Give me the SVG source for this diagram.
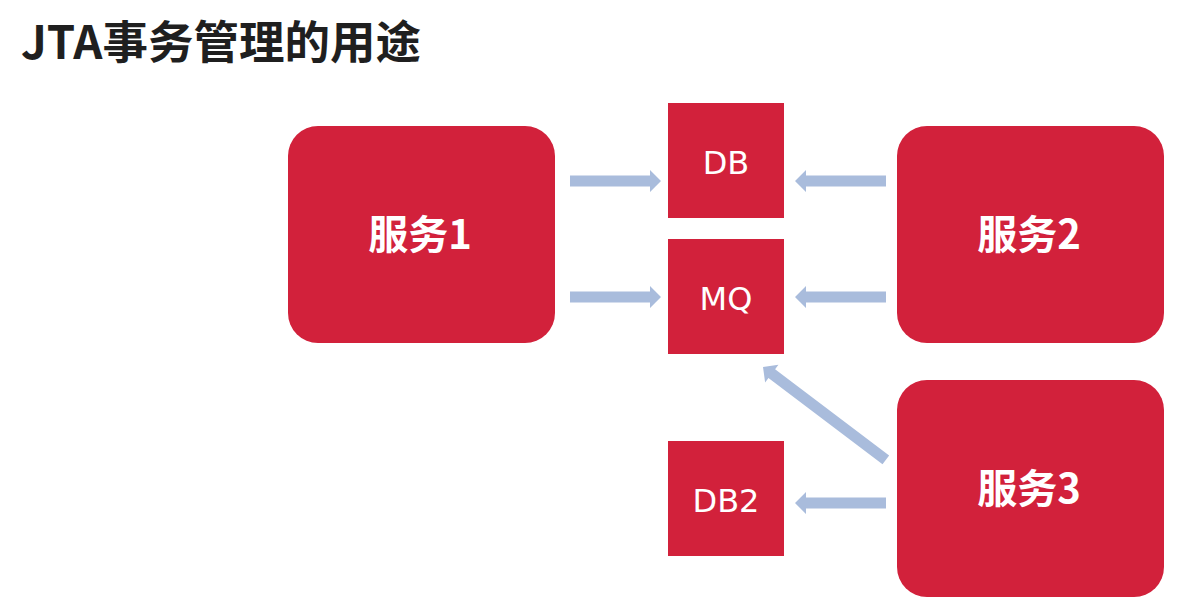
<svg xmlns="http://www.w3.org/2000/svg" width="1180" height="605" viewBox="0 0 1180 605">
<style>
.svc{fill:#d2213b;}
.box{fill:#d2213b;}
.svct{fill:#fff;font-family:"Noto Sans CJK SC","Noto Sans",sans-serif;font-weight:700;font-size:40px;text-anchor:middle;}
.boxt{fill:#fff;font-family:"DejaVu Sans","Noto Sans CJK SC",sans-serif;font-size:32px;text-anchor:middle;}
.title{fill:#1f1f1f;font-family:"Noto Sans CJK SC","Noto Sans",sans-serif;font-weight:700;font-size:45.5px;}
.arr{fill:#a9bcdc;}
</style>
<rect width="1180" height="605" fill="#ffffff"/>
<text class="title" x="21" y="59">JTA事务管理的用途</text>
<g id="svc1"><rect class="svc" x="288" y="126" width="267" height="217" rx="30"/><text class="svct" x="420" y="249">服务1</text></g>
<g id="svc2"><rect class="svc" x="897" y="126" width="267" height="217" rx="30"/><text class="svct" x="1029" y="249">服务2</text></g>
<g id="svc3"><rect class="svc" x="897" y="380" width="267" height="217" rx="30"/><text class="svct" x="1029" y="503">服务3</text></g>
<g id="db"><rect class="box" x="668" y="103" width="116" height="115"/><text class="boxt" x="726" y="174">DB</text></g>
<g id="mq"><rect class="box" x="668" y="239" width="116" height="115"/><text class="boxt" x="726" y="310">MQ</text></g>
<g id="db2"><rect class="box" x="668" y="441" width="116" height="115"/><text class="boxt" x="726" y="512">DB2</text></g>
<g id="connectors">
<polygon class="arr" points="570,175.5 650,175.5 650,170 661,181 650,192 650,186.5 570,186.5"/>
<polygon class="arr" points="570,291.5 650,291.5 650,286 661,297 650,308 650,302.5 570,302.5"/>
<polygon class="arr" points="886,175.5 806,175.5 806,170 795,181 806,192 806,186.5 886,186.5"/>
<polygon class="arr" points="886,291.5 806,291.5 806,286 795,297 806,308 806,302.5 886,302.5"/>
<polygon class="arr" points="886,497.5 806,497.5 806,492 795,503 806,514 806,508.5 886,508.5"/>
<polygon class="arr" transform="translate(763,367) rotate(217.1)" points="-154,-5.5 -11,-5.5 -11,-11 0,0 -11,11 -11,5.5 -154,5.5"/>
</g>
</svg>
